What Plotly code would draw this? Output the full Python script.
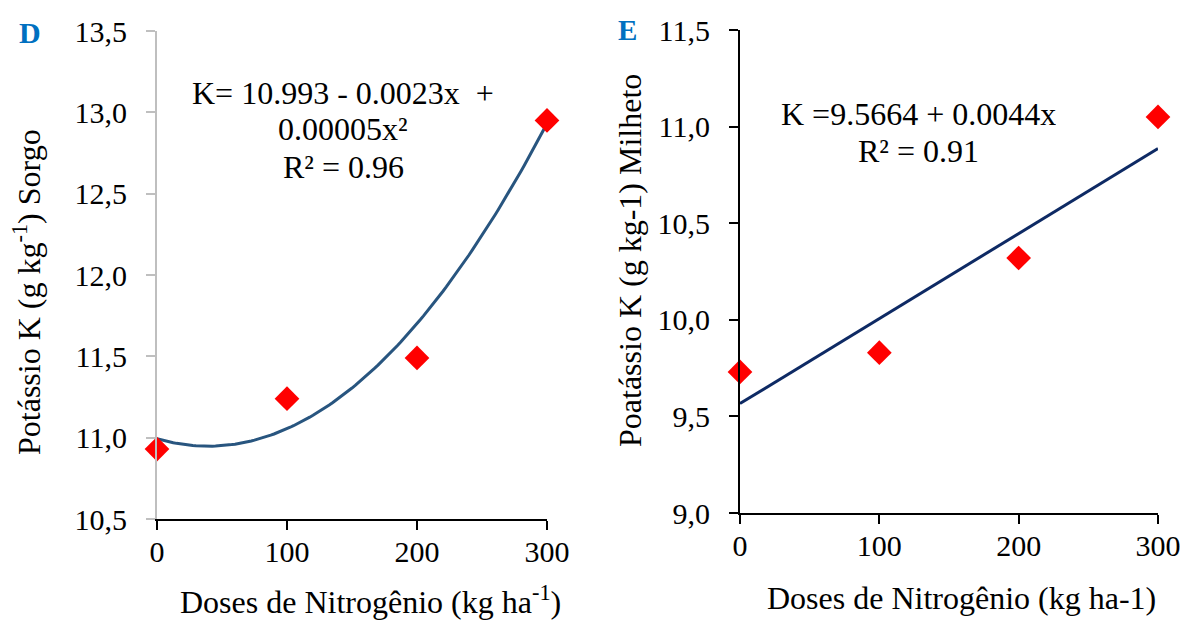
import numpy as np
import plotly.graph_objects as go

# Nitrogen doses (kg/ha)
doses = [0, 100, 200, 300]

# Potassium content, sorghum (panel D)
k_sorgo = [10.93, 11.24, 11.49, 12.95]
# Quadratic trend drawn for sorghum: a + b*x + c*x^2
sorgo_a, sorgo_b, sorgo_c = 10.993, -0.0023, 0.0000292

# Potassium content, millet (panel E)
k_milheto = [9.73, 9.83, 10.32, 11.05]
# Linear trend for millet: a + b*x
milheto_a, milheto_b = 9.5664, 0.0044

W, H = 1186, 622
FONT = "Times New Roman, Liberation Serif, DejaVu Serif, serif"
RED = "#FF0000"
TICK_SIZE = 30
TEXT_SIZE = 32

fig = go.Figure()

xs = np.linspace(0, 300, 121)
fig.add_trace(go.Scatter(
    x=xs, y=sorgo_a + sorgo_b * xs + sorgo_c * xs ** 2,
    mode="lines", line=dict(color="#28557F", width=3),
    xaxis="x", yaxis="y", hoverinfo="skip", cliponaxis=False))
fig.add_trace(go.Scatter(
    x=doses, y=k_sorgo, mode="markers",
    marker=dict(symbol="diamond", size=19, color=RED),
    xaxis="x", yaxis="y", cliponaxis=False))

fig.add_trace(go.Scatter(
    x=[0, 300], y=[milheto_a, milheto_a + milheto_b * 300],
    mode="lines", line=dict(color="#0E2A64", width=3),
    xaxis="x2", yaxis="y2", hoverinfo="skip", cliponaxis=False))
fig.add_trace(go.Scatter(
    x=doses, y=k_milheto, mode="markers",
    marker=dict(symbol="diamond", size=19, color=RED),
    xaxis="x2", yaxis="y2", cliponaxis=False))

tickfont = dict(family=FONT, size=TICK_SIZE, color="black")


def xaxis_cfg(domain, anchor):
    return dict(domain=domain, anchor=anchor, range=[0, 300],
                tickvals=doses, ticks="outside", ticklen=9, tickwidth=2,
                tickcolor="black", showline=True, linecolor="black",
                linewidth=2, showgrid=False, zeroline=False,
                ticklabelstandoff=-4,
                tickfont=tickfont, fixedrange=True, automargin=False)


def yaxis_cfg(domain, anchor, rng, color):
    return dict(domain=domain, anchor=anchor, range=rng, dtick=0.5,
                tickformat=".1f", ticks="outside", ticklen=9, tickwidth=2,
                tickcolor=color, showline=True, linecolor=color,
                linewidth=2, showgrid=False, zeroline=False,
                ticklabelstandoff=13,
                tickfont=tickfont, fixedrange=True, automargin=False)


def px_x(p):
    return p / W


def px_y(p):
    return 1 - p / H


fig.update_layout(
    width=W, height=H,
    margin=dict(l=0, r=0, t=0, b=0, pad=0, autoexpand=False),
    paper_bgcolor="white", plot_bgcolor="white",
    showlegend=False,
    separators=",.",
    font=dict(family=FONT, color="black"),
    xaxis=xaxis_cfg([px_x(157), px_x(547)], "y"),
    yaxis=yaxis_cfg([px_y(519), px_y(31)], "x", [10.5, 13.5], "#BFBFBF"),
    xaxis2=xaxis_cfg([px_x(740), px_x(1158)], "y2"),
    yaxis2=yaxis_cfg([px_y(513), px_y(30)], "x2", [9.0, 11.5], "black"),
)

ann = []


def text(x, y, s, size=TEXT_SIZE, angle=0, height=None, **kw):
    a = dict(x=px_x(x), y=px_y(y), xref="paper", yref="paper",
             text=s, showarrow=False, textangle=angle,
             xanchor="center", yanchor="middle",
             font=dict(family=FONT, size=size,
                       color=kw.get("color", "black")))
    if height is not None:
        a["height"] = height
    ann.append(a)


# Panel letters
text(30, 32, "<b>D</b>", size=30, color="#0070C0")
text(627, 30, "<b>E</b>", size=29, color="#0070C0")

# Axis titles
text(370, 600, "Doses de Nitrogênio (kg ha<sup>-1</sup>)")
text(961, 598, "Doses de Nitrogênio (kg ha-1)")
text(27, 292, "Potássio K (g kg<sup>-1</sup>) Sorgo", angle=-90)
text(630, 261, "Poatássio K (g kg-1) Milheto", angle=-90)

# Trend equations
text(343, 93, "K= 10.993 - 0.0023x  +", height=30)
text(343, 129, "0.00005x²", height=30)
text(343, 167, "R² = 0.96", height=32)
text(918, 114, "K =9.5664 + 0.0044x", height=32)
text(918, 151, "R² = 0.91", height=32)

fig.update_layout(annotations=ann)

fig.write_html("out.html", post_script="document.body.style.margin='0';")
